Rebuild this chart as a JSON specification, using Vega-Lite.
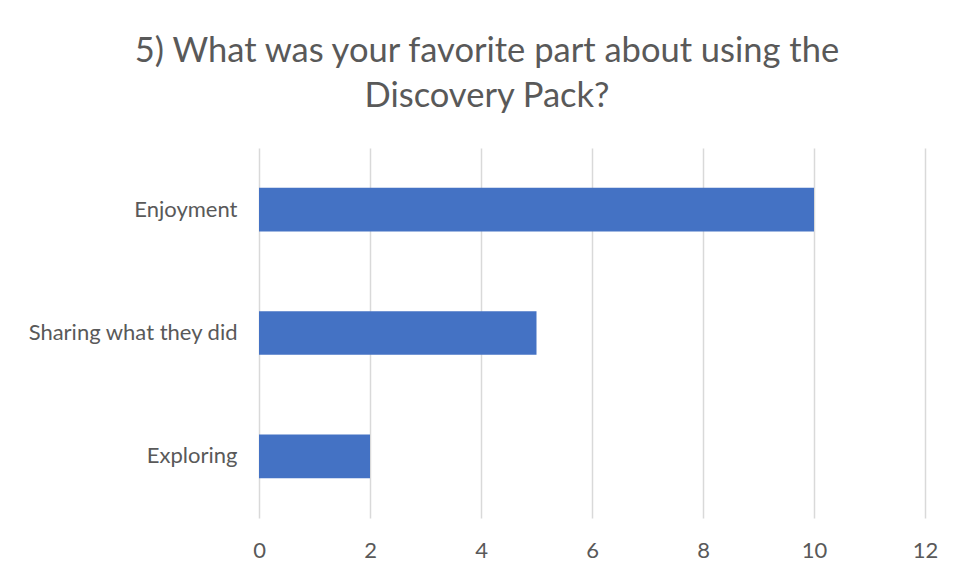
{
  "$schema": "https://vega.github.io/schema/vega-lite/v6.json",
  "width": 666,
  "height": 370,
  "autosize": "none",
  "padding": {"left": 259, "top": 148, "right": 31, "bottom": 60},
  "background": "white",
  "title": {
    "text": ["5) What was your favorite part about using the", "Discovery Pack?"],
    "anchor": "middle",
    "frame": "group",
    "dx": -105,
    "offset": 34,
    "font": "Lato",
    "fontSize": 34.5,
    "fontWeight": "normal",
    "color": "#595959",
    "lineHeight": 45
  },
  "data": {
    "values": [
      {"category": "Enjoyment", "count": 10},
      {"category": "Sharing what they did", "count": 5},
      {"category": "Exploring", "count": 2}
    ]
  },
  "mark": {"type": "bar", "color": "#4472C4"},
  "encoding": {
    "y": {
      "field": "category",
      "type": "nominal",
      "sort": ["Enjoyment", "Sharing what they did", "Exploring"],
      "scale": {"paddingInner": 0.646, "paddingOuter": 0.323},
      "axis": {
        "title": null,
        "domain": false,
        "ticks": false,
        "labelPadding": 22,
        "labelLimit": 400,
        "labelFont": "Lato",
        "labelFontSize": 22,
        "labelColor": "#595959",
        "grid": false
      }
    },
    "x": {
      "field": "count",
      "type": "quantitative",
      "scale": {"domain": [0, 12], "nice": false},
      "axis": {
        "title": null,
        "values": [0, 2, 4, 6, 8, 10, 12],
        "domain": false,
        "ticks": false,
        "labelFlush": false,
        "labelOverlap": false,
        "labelPadding": 22,
        "labelFont": "Lato",
        "labelFontSize": 22,
        "labelColor": "#595959",
        "gridColor": "#D9D9D9",
        "gridWidth": 1.5
      }
    }
  },
  "config": {"view": {"stroke": null}}
}
